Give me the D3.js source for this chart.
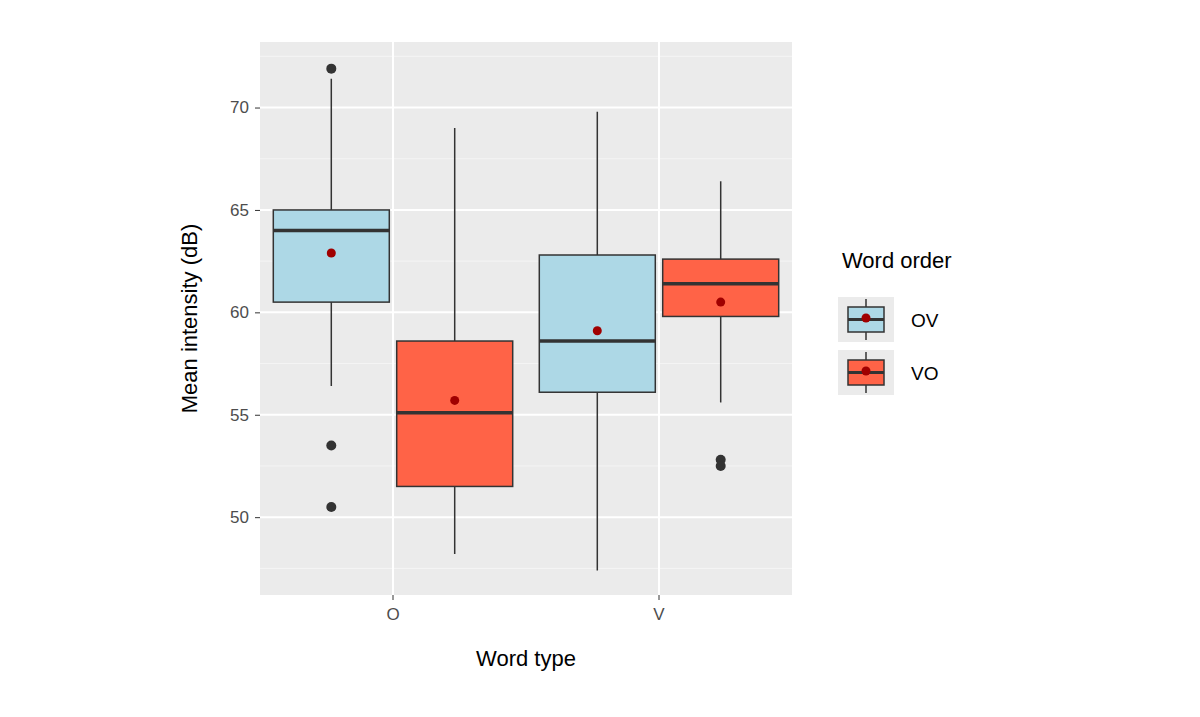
<!DOCTYPE html>
<html><head><meta charset="utf-8">
<script src="https://cdn.jsdelivr.net/npm/d3@7"></script>
<style>body{margin:0;background:#fff}text{font-family:"Liberation Sans",Arial,sans-serif}</style>
</head><body>
<svg id="canvas" width="1200" height="717"></svg>
<script>
// ===== Data =====
const wordTypes = ["O", "V"];
const wordOrders = ["OV", "VO"];
const orderColors = ["#add8e6", "#ff6347"];
// per box: [type, order, lowWhisker, q1, median, q3, highWhisker, mean]
const boxStats = [
  ["O", "OV", 56.4, 60.5, 64.0, 65.0, 71.4, 62.9],
  ["O", "VO", 48.2, 51.5, 55.1, 58.6, 69.0, 55.7],
  ["V", "OV", 47.4, 56.1, 58.6, 62.8, 69.8, 59.1],
  ["V", "VO", 55.6, 59.8, 61.4, 62.6, 66.4, 60.5]
];
const outliers = [
  ["O", "OV", 71.9], ["O", "OV", 53.5], ["O", "OV", 50.5],
  ["V", "VO", 52.8], ["V", "VO", 52.5]
];
const yTicks = [50, 55, 60, 65, 70];

const svg = d3.select("#canvas");
const pLeft = 260, pRight = 792, pTop = 42, pBottom = 595;

const x = d3.scaleBand().domain(wordTypes).range([pLeft, pRight]).paddingInner(0.1).paddingOuter(0.05);
const dodge = d3.scaleBand().domain(wordOrders).range([0, x.bandwidth()]).paddingInner(0.06);
const y = d3.scaleLinear().domain([46.2, 73.2]).range([pBottom, pTop]);
const color = d3.scaleOrdinal().domain(wordOrders).range(orderColors);
const cx = t => x(t) + x.bandwidth() / 2;

// Panel
svg.append("rect").attr("x", pLeft).attr("y", pTop).attr("width", pRight - pLeft).attr("height", pBottom - pTop).attr("fill", "#ebebeb");
const minor = yTicks.map(v => v - 2.5).concat([72.5]);
svg.selectAll(".minor").data(minor).enter().append("line")
  .attr("x1", pLeft).attr("x2", pRight).attr("y1", d => y(d)).attr("y2", d => y(d))
  .attr("stroke", "#f5f5f5").attr("stroke-width", 1);
svg.selectAll(".major").data(yTicks).enter().append("line")
  .attr("x1", pLeft).attr("x2", pRight).attr("y1", d => y(d)).attr("y2", d => y(d))
  .attr("stroke", "#fff").attr("stroke-width", 2);
svg.selectAll(".vmajor").data(wordTypes).enter().append("line")
  .attr("x1", cx).attr("x2", cx).attr("y1", pTop).attr("y2", pBottom)
  .attr("stroke", "#fff").attr("stroke-width", 2);

// Boxes
const bx = d => x(d[0]) + dodge(d[1]);
const bw = dodge.bandwidth();
const box = svg.selectAll(".box").data(boxStats).enter().append("g");
box.append("line").attr("x1", d => bx(d) + bw / 2).attr("x2", d => bx(d) + bw / 2)
  .attr("y1", d => y(d[2])).attr("y2", d => y(d[6])).attr("stroke", "#333").attr("stroke-width", 1.5);
box.append("rect").attr("x", bx).attr("width", bw)
  .attr("y", d => y(d[5])).attr("height", d => y(d[3]) - y(d[5]))
  .attr("fill", d => color(d[1])).attr("stroke", "#333").attr("stroke-width", 1.5);
box.append("line").attr("x1", bx).attr("x2", d => bx(d) + bw)
  .attr("y1", d => y(d[4])).attr("y2", d => y(d[4])).attr("stroke", "#333").attr("stroke-width", 3.5);
box.append("circle").attr("cx", d => bx(d) + bw / 2).attr("cy", d => y(d[7])).attr("r", 4.5).attr("fill", "#a00000");

svg.selectAll(".out").data(outliers).enter().append("circle")
  .attr("cx", d => x(d[0]) + dodge(d[1]) + bw / 2).attr("cy", d => y(d[2])).attr("r", 5).attr("fill", "#333");

// Axes
const ya = svg.append("g").attr("transform", `translate(${pLeft},0)`)
  .call(d3.axisLeft(y).tickValues(yTicks).tickSize(5).tickPadding(6));
ya.select(".domain").remove();
ya.selectAll("line").attr("stroke", "#333");
ya.selectAll("text").attr("fill", "#4d4d4d").attr("font-size", 17);
const xa = svg.append("g").attr("transform", `translate(0,${pBottom})`)
  .call(d3.axisBottom(x).tickSize(5).tickPadding(8));
xa.select(".domain").remove();
xa.selectAll("line").attr("stroke", "#333");
xa.selectAll("text").attr("fill", "#4d4d4d").attr("font-size", 17);

svg.append("text").attr("x", (pLeft + pRight) / 2).attr("y", 666).attr("text-anchor", "middle")
  .attr("font-size", 22).attr("fill", "#000").text("Word type");
svg.append("text").attr("transform", `translate(197,${(pTop + pBottom) / 2}) rotate(-90)`)
  .attr("text-anchor", "middle").attr("font-size", 22).attr("fill", "#000").text("Mean intensity (dB)");

// Legend
const lg = svg.append("g").attr("transform", "translate(838,0)");
lg.append("text").attr("x", 4).attr("y", 268).attr("font-size", 22).text("Word order");
const key = lg.selectAll(".key").data(wordOrders).enter().append("g")
  .attr("transform", (d, i) => `translate(0,${297 + i * 53})`);
key.append("rect").attr("width", 56).attr("height", 45).attr("fill", "#ebebeb");
key.append("line").attr("x1", 28).attr("x2", 28).attr("y1", 2).attr("y2", 43).attr("stroke", "#333").attr("stroke-width", 1.5);
key.append("rect").attr("x", 10).attr("y", 10).attr("width", 36).attr("height", 25)
  .attr("fill", d => color(d)).attr("stroke", "#333").attr("stroke-width", 1.5);
key.append("line").attr("x1", 10).attr("x2", 46).attr("y1", 22.5).attr("y2", 22.5).attr("stroke", "#333").attr("stroke-width", 3);
key.append("circle").attr("cx", 28).attr("cy", 21).attr("r", 4.5).attr("fill", "#a00000");
key.append("text").attr("x", 73).attr("y", 30).attr("font-size", 19).attr("fill", "#000").text(d => d);
</script>
</body></html>
